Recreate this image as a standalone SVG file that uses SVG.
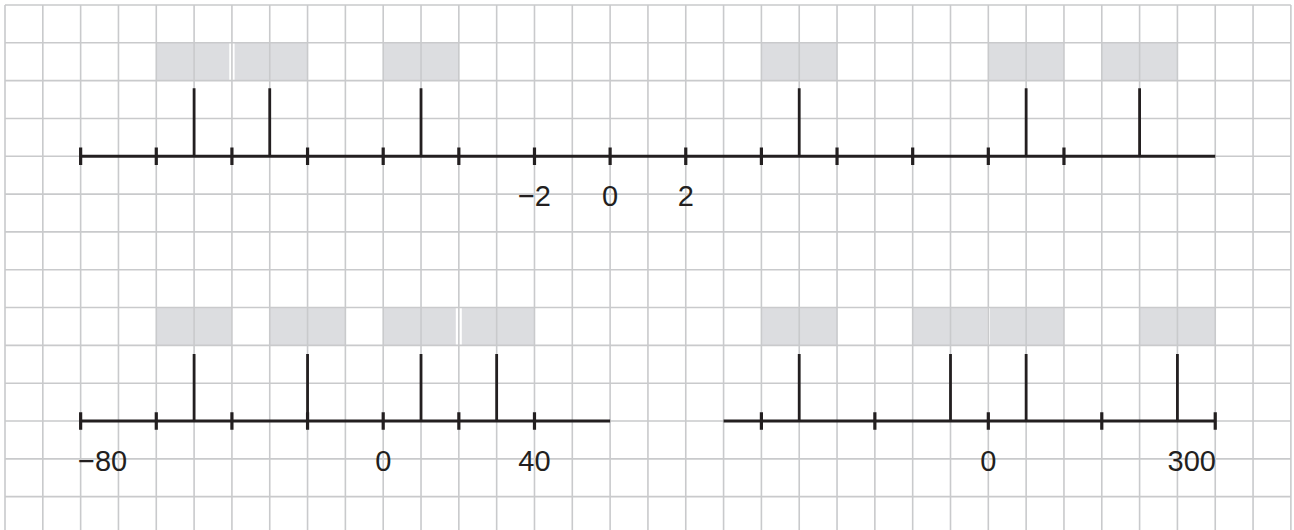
<svg xmlns="http://www.w3.org/2000/svg" width="1294" height="530" viewBox="0 0 1294 530">
<style>
.bg{fill:#ffffff}
.grid{stroke:#c9cacc;stroke-width:1.6;fill:none}
.box{fill:#dcdde0}
.axis{stroke:#231f20;stroke-width:3;fill:none}
.tick{stroke:#231f20;stroke-width:3.2;fill:none}
.mark{stroke:#231f20;stroke-width:2.8;fill:none}
.lbl{font-family:"Liberation Sans",Arial,sans-serif;font-size:29px;fill:#231f20}
</style>
<rect class="bg" x="0" y="0" width="1294" height="530"/>

<g id="boxes">
<rect class="box" x="156.28" y="42.82" width="73" height="37.82"/>
<rect class="box" x="234.6" y="42.82" width="72.96" height="37.82"/>
<rect class="box" x="383.2" y="42.82" width="75.64" height="37.82"/>
<rect class="box" x="761.4" y="42.82" width="75.64" height="37.82"/>
<rect class="box" x="988.32" y="42.82" width="75.64" height="37.82"/>
<rect class="box" x="1101.78" y="42.82" width="75.64" height="37.82"/>
<rect class="box" x="156.28" y="307.56" width="75.64" height="37.82"/>
<rect class="box" x="269.74" y="307.56" width="75.64" height="37.82"/>
<rect class="box" x="383.2" y="307.56" width="72.6" height="37.82"/>
<rect class="box" x="461.8" y="307.56" width="72.68" height="37.82"/>
<rect class="box" x="761.4" y="307.56" width="75.64" height="37.82"/>
<rect class="box" x="912.68" y="307.56" width="75" height="37.82"/>
<rect class="box" x="989.7" y="307.56" width="74.26" height="37.82"/>
<rect class="box" x="1139.6" y="307.56" width="75.64" height="37.82"/>
</g>

<g id="grid" class="grid">
<path d="M5,5V530M42.82,5V530M80.64,5V530M118.46,5V530M156.28,5V530M194.1,5V530M231.92,5V530M269.74,5V530M307.56,5V530M345.38,5V530M383.2,5V530M421.02,5V530M458.84,5V530M496.66,5V530M534.48,5V530M572.3,5V530M610.12,5V530M647.94,5V530M685.76,5V530M723.58,5V530M761.4,5V530M799.22,5V530M837.04,5V530M874.86,5V530M912.68,5V530M950.5,5V530M988.32,5V530M1026.14,5V530M1063.96,5V530M1101.78,5V530M1139.6,5V530M1177.42,5V530M1215.24,5V530M1253.06,5V530M1290.88,5V530"/>
<path d="M5,5H1290.88M5,42.82H1290.88M5,80.64H1290.88M5,118.46H1290.88M5,156.28H1290.88M5,194.1H1290.88M5,231.92H1290.88M5,269.74H1290.88M5,307.56H1290.88M5,345.38H1290.88M5,383.2H1290.88M5,421.02H1290.88M5,458.84H1290.88M5,496.66H1290.88"/>
</g>

<g id="number-line-top">
<path class="axis" d="M80.64,156.28H1215.24"/>
<path class="tick" d="M80.64,147.5v17.5M156.28,147.5v17.5M231.92,147.5v17.5M307.56,147.5v17.5M383.2,147.5v17.5M458.84,147.5v17.5M534.48,147.5v17.5M610.12,147.5v17.5M685.76,147.5v17.5M761.4,147.5v17.5M837.04,147.5v17.5M912.68,147.5v17.5M988.32,147.5v17.5M1063.96,147.5v17.5"/>
<path class="mark" d="M194.1,88.3V156.28M269.74,88.3V156.28M421.02,88.3V156.28M799.22,88.3V156.28M1026.14,88.3V156.28M1139.6,88.3V156.28"/>
<text class="lbl" x="534.48" y="206" text-anchor="middle">−2</text>
<text class="lbl" x="610.12" y="206" text-anchor="middle">0</text>
<text class="lbl" x="685.76" y="206" text-anchor="middle">2</text>
</g>

<g id="number-line-bottom-left">
<path class="axis" d="M80.64,421.02H610.12"/>
<path class="tick" d="M80.64,412.3v17.5M156.28,412.3v17.5M231.92,412.3v17.5M307.56,412.3v17.5M383.2,412.3v17.5M458.84,412.3v17.5M534.48,412.3v17.5"/>
<path class="mark" d="M194.1,354V421.02M307.56,354V421.02M421.02,354V421.02M496.66,354V421.02"/>
<text class="lbl" x="78" y="471" text-anchor="start">−80</text>
<text class="lbl" x="383.2" y="471" text-anchor="middle">0</text>
<text class="lbl" x="534.48" y="471" text-anchor="middle">40</text>
</g>

<g id="number-line-bottom-right">
<path class="axis" d="M723.58,421.02H1215.24"/>
<path class="tick" d="M761.4,412.3v17.5M874.86,412.3v17.5M988.32,412.3v17.5M1101.78,412.3v17.5M1215.24,412.3v17.5"/>
<path class="mark" d="M799.22,354V421.02M950.5,354V421.02M1026.14,354V421.02M1177.42,354V421.02"/>
<text class="lbl" x="988.32" y="471" text-anchor="middle">0</text>
<text class="lbl" x="1216" y="471" text-anchor="end">300</text>
</g>
</svg>
